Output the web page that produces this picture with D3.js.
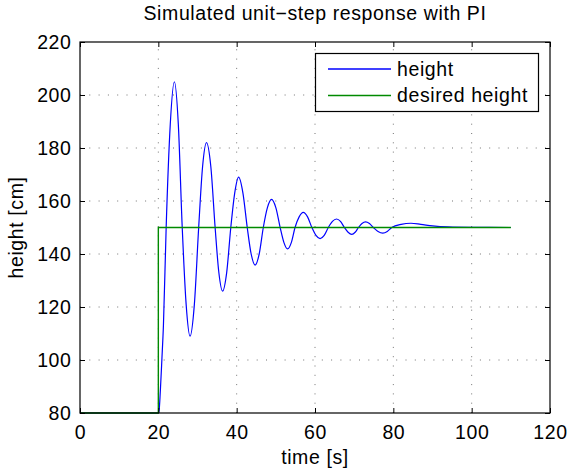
<!DOCTYPE html>
<html><head><meta charset="utf-8">
<script src="https://cdn.jsdelivr.net/npm/d3@7"></script>
<style>body{margin:0;background:#fff}svg{display:block}text{font-family:"Liberation Sans",Arial,sans-serif;fill:#000;letter-spacing:0.6px}</style>
</head><body>
<script>
const title = "Simulated unit\u2212step response with PI";
const xLabel = "time [s]";
const yLabel = "height [cm]";
const xTicks = [0,20,40,60,80,100,120];
const yTicks = [80,100,120,140,160,180,200,220];
const seriesNames = ["height","desired height"];
// height response (t [s], h [cm])
const heightT = [0,20,20.2,20.5,20.9,21.3,22.0,23.05,24.1,25.1,26.1,27.1,28.1,29.2,30.3,31.3,32.3,33.4,34.5,35.45,36.4,37.45,38.5,39.5,40.5,41.6,42.7,43.7,44.7,45.75,46.8,47.85,48.9,50.0,51.1,52.05,53.0,53.95,54.9,55.95,57.0,58.1,59.2,60.25,61.3,62.35,63.4,64.45,65.5,66.5,67.5,68.45,69.4,70.25,71.1,72.0,72.9,73.9,74.9,76.1,77.3,78.45,79.6,82,84.5,87,90,94,100,110];
const heightH = [80,80,81,88,100,113,150,189,205,189,150,121,109,121,150,173,182,173,150,133,126,133,150,163,169,163,150,140,135.8,140,150,157.5,160.6,157.5,150,144.4,141.9,144.3,150,154,155.7,154,150,147,145.8,147,150,152.3,153.2,152.3,150,148.2,147.4,148.2,150,151.5,152.1,151.5,150,148.5,147.9,148.5,150,151.2,151.6,151.2,150.6,150.2,150.05,150];
// desired height (step at t=20)
const desiredT = [0,20,20,110];
const desiredH = [80,80,150,150];

const W=569,H=470;
const m={l:80,r:19,t:42,b:57};
const svg=d3.select("body").append("svg").attr("width",W).attr("height",H);
const x=d3.scaleLinear().domain([0,120]).range([m.l,W-m.r]);
const y=d3.scaleLinear().domain([80,220]).range([H-m.b,m.t]);
const x0=x(0),x1=x(120),y0=y(80),y1=y(220);
const fs=19.5;
const green="#008a00";

// grid
const g=svg.append("g");
xTicks.slice(1,-1).forEach(v=>g.append("line").attr("x1",x(v)).attr("x2",x(v)).attr("y1",y0).attr("y2",y1)
  .attr("stroke","#000").attr("stroke-opacity",0.55).attr("stroke-dasharray","1,8.3"));
yTicks.slice(1,-1).forEach(v=>g.append("line").attr("y1",y(v)).attr("y2",y(v)).attr("x1",x0).attr("x2",x1)
  .attr("stroke","#000").attr("stroke-opacity",0.55).attr("stroke-dasharray","1,8.3"));

// lines
const line=d3.line().x(d=>x(d[0])).y(d=>y(d[1]));
svg.append("path").datum(heightT.map((t,i)=>[t,heightH[i]])).attr("fill","none").attr("stroke","#0000ff")
  .attr("stroke-width",1.2).attr("d",d3.line().x(d=>x(d[0])).y(d=>y(d[1])).curve(d3.curveMonotoneX));
svg.append("path").datum(desiredT.map((t,i)=>[t,desiredH[i]])).attr("fill","none").attr("stroke",green)
  .attr("stroke-width",1.4).attr("d",line);

// axes (ticks inward, on all sides)
const tl=5;
const axB=d3.axisBottom(x).tickValues(xTicks).tickSizeInner(-tl).tickSizeOuter(0).tickPadding(12.5);
const axT=d3.axisTop(x).tickValues(xTicks).tickSizeInner(-tl).tickSizeOuter(0).tickFormat("");
const axL=d3.axisLeft(y).tickValues(yTicks).tickSizeInner(-tl).tickSizeOuter(0).tickPadding(8.5);
const axR=d3.axisRight(y).tickValues(yTicks).tickSizeInner(-tl).tickSizeOuter(0).tickFormat("");
function style(s){s.select(".domain").remove();s.selectAll("line").attr("stroke","#000");
  s.selectAll("text").style("font-size",fs+"px").style("font-family",'"Liberation Sans",Arial,sans-serif').attr("fill","#000");}
svg.append("g").attr("transform",`translate(0,${y0})`).call(axB).call(style);
svg.append("g").attr("transform",`translate(0,${y1})`).call(axT).call(style);
svg.append("g").attr("transform",`translate(${x0},0)`).call(axL).call(style);
svg.append("g").attr("transform",`translate(${x1},0)`).call(axR).call(style);
svg.append("rect").attr("x",x0).attr("y",y1).attr("width",x1-x0).attr("height",y0-y1)
  .attr("fill","none").attr("stroke","#000").attr("stroke-width",1.2);

// legend
const lg=svg.append("g");
lg.append("rect").attr("x",315.5).attr("y",53.5).attr("width",223).attr("height",58).attr("fill","#fff").attr("stroke","#000").attr("stroke-width",1.2);
const cols=["#0000ff",green];
seriesNames.forEach((n,i)=>{
  const yy=69+i*26.5;
  lg.append("line").attr("x1",328).attr("x2",391).attr("y1",yy).attr("y2",yy).attr("stroke",cols[i]).attr("stroke-width",1.3);
  lg.append("text").attr("x",397).attr("y",yy).attr("dy","0.35em").style("font-size",fs+"px").text(n);
});

// labels
svg.append("text").attr("x",(x0+x1)/2).attr("y",20).attr("text-anchor","middle").style("font-size",fs+"px").text(title);
svg.append("text").attr("x",(x0+x1)/2).attr("y",464).attr("text-anchor","middle").style("font-size",fs+"px").text(xLabel);
svg.append("text").attr("transform",`translate(23,${(y0+y1)/2}) rotate(-90)`).attr("text-anchor","middle").style("font-size",fs+"px").text(yLabel);
</script>
</body></html>
